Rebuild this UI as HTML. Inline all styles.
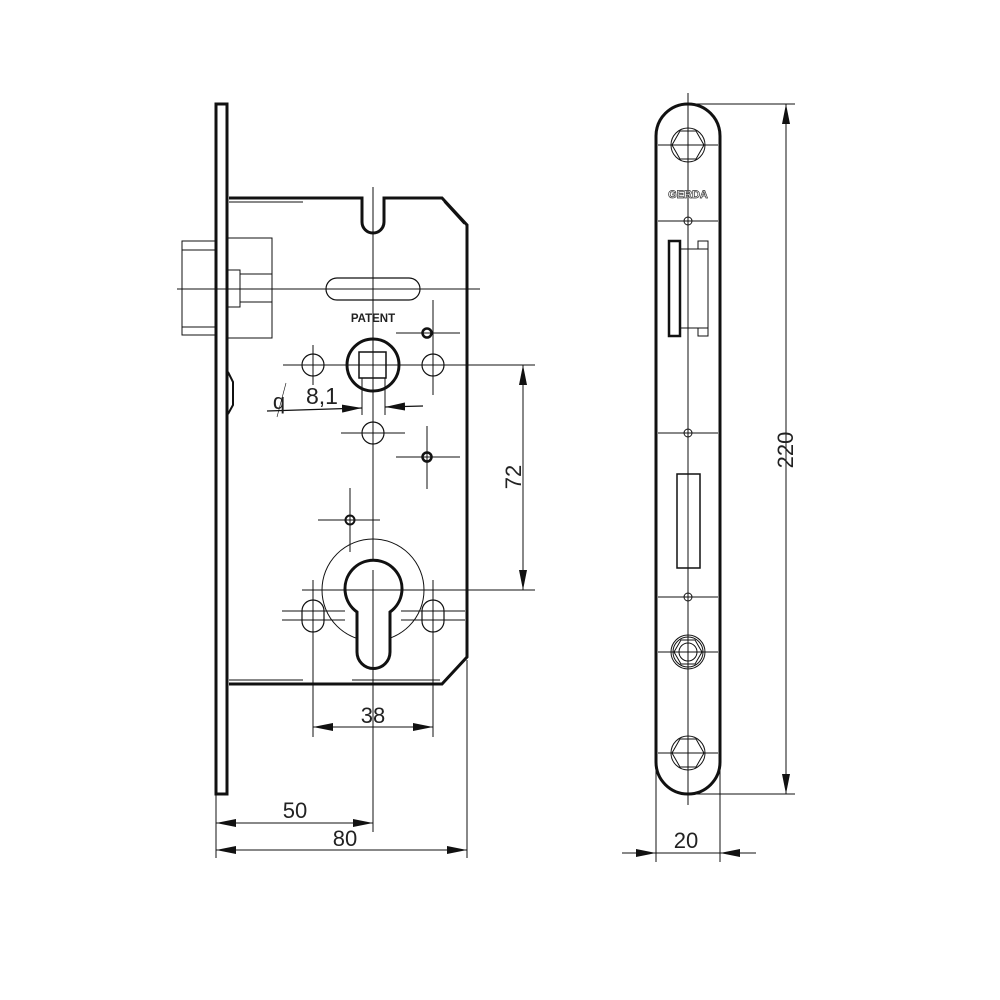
<!DOCTYPE html>
<html><head><meta charset="utf-8"><style>
html,body{margin:0;padding:0;background:#fff;}
svg{display:block;}
text{font-family:"Liberation Sans",Arial,sans-serif;fill:#222;}
</style></head><body>
<svg width="1000" height="1000" viewBox="0 0 1000 1000" xmlns="http://www.w3.org/2000/svg">
<defs>
<marker id="a" viewBox="0 0 20 8" refX="20" refY="4" markerWidth="20" markerHeight="8" markerUnits="userSpaceOnUse" orient="auto"><path d="M0,0 L20,4 L0,8 z" fill="#111"/></marker>
<marker id="b" viewBox="0 0 20 8" refX="0" refY="4" markerWidth="20" markerHeight="8" markerUnits="userSpaceOnUse" orient="auto"><path d="M20,0 L0,4 L20,8 z" fill="#111"/></marker>
</defs>
<g fill="none" stroke="#111">
<g stroke-width="1">
<line x1="373" y1="187" x2="373" y2="832"/>
<line x1="177" y1="289" x2="480" y2="289"/>
<line x1="283" y1="365" x2="535" y2="365"/>
<line x1="302" y1="590" x2="535" y2="590"/>
<line x1="313" y1="345" x2="313" y2="385"/>
<line x1="433" y1="300" x2="433" y2="395"/>
<line x1="396" y1="333" x2="460" y2="333"/>
<line x1="341" y1="433" x2="405" y2="433"/>
<line x1="396" y1="457" x2="460" y2="457"/>
<line x1="427" y1="426" x2="427" y2="489"/>
<line x1="318" y1="520" x2="380" y2="520"/>
<line x1="350" y1="488" x2="350" y2="552"/>
<line x1="313" y1="580" x2="313" y2="737"/>
<line x1="433" y1="580" x2="433" y2="737"/>
<line x1="216" y1="795" x2="216" y2="858"/>
<line x1="467" y1="660" x2="467" y2="858"/>
<line x1="362" y1="378" x2="362" y2="415"/>
<line x1="385" y1="378" x2="385" y2="415"/>
</g>
<rect x="216" y="104" width="11" height="690" stroke-width="3"/>
<path d="M228,372 L233,382 L233,405 L228,414" stroke-width="2"/>
<path d="M229,198 L362,198 L362,222 A11,11 0 0 0 384,222 L384,198 L442,198 L467,225 L467,657 L442,684 L229,684" stroke-width="3"/>
<path d="M229,202 L303,202 M444,202 L464,224 M444,681 L464,660 M229,680 L303,680 M352,680 L440,680" stroke-width="1"/>
<rect x="182" y="241" width="34" height="94" stroke-width="1"/>
<line x1="182" y1="250" x2="216" y2="250" stroke-width="1"/>
<line x1="182" y1="327" x2="216" y2="327" stroke-width="1"/>
<path d="M228,238 L272,238 L272,338 L228,338" stroke-width="1"/>
<rect x="228" y="270" width="12" height="37" stroke-width="1"/>
<path d="M240,274 L272,274 M240,302 L272,302" stroke-width="1"/>
<rect x="326" y="278" width="94" height="22" rx="11" stroke-width="1.2"/>
<circle cx="373" cy="365" r="26" stroke-width="3"/>
<rect x="359" y="352" width="27" height="26" stroke-width="1.5"/>
<circle cx="313" cy="365" r="11" stroke-width="1.2"/>
<circle cx="433" cy="365" r="11" stroke-width="1.2"/>
<circle cx="373" cy="433" r="11" stroke-width="1.2"/>
<circle cx="427" cy="333" r="4.5" stroke-width="2.5"/>
<circle cx="427" cy="457" r="4.5" stroke-width="2.5"/>
<circle cx="350" cy="520" r="4.5" stroke-width="2"/>
<circle cx="373" cy="590" r="51" stroke-width="1"/>
<path d="M357,612 A28.5,28.5 0 1 1 390,612 L390,652 A16.5,16.5 0 0 1 357,652 Z" stroke-width="3" fill="#fff"/>
<rect x="302" y="600" width="22" height="32" rx="11" stroke-width="1.2" fill="#fff"/>
<rect x="422" y="600" width="22" height="32" rx="11" stroke-width="1.2" fill="#fff"/>
<line x1="313" y1="595" x2="313" y2="640" stroke-width="1"/>
<line x1="433" y1="595" x2="433" y2="640" stroke-width="1"/>
<line x1="282" y1="611" x2="345" y2="611" stroke-width="1"/>
<line x1="282" y1="620" x2="345" y2="620" stroke-width="1"/>
<line x1="401" y1="611" x2="465" y2="611" stroke-width="1"/>
<line x1="401" y1="620" x2="465" y2="620" stroke-width="1"/>
<line x1="373" y1="570" x2="373" y2="670" stroke-width="1"/>
<line x1="335" y1="590" x2="412" y2="590" stroke-width="1"/>
<line x1="267" y1="411" x2="362" y2="408" stroke-width="1.2" marker-end="url(#a)"/>
<line x1="385" y1="407" x2="423" y2="406" stroke-width="1.2" marker-start="url(#b)"/>
<line x1="277" y1="417" x2="286" y2="383" stroke-width="0.6"/>
<line x1="313" y1="727" x2="433" y2="727" stroke-width="1" marker-start="url(#b)" marker-end="url(#a)"/>
<line x1="216" y1="823" x2="373" y2="823" stroke-width="1" marker-start="url(#b)" marker-end="url(#a)"/>
<line x1="216" y1="850" x2="467" y2="850" stroke-width="1" marker-start="url(#b)" marker-end="url(#a)"/>
<line x1="523" y1="365" x2="523" y2="590" stroke-width="1" marker-start="url(#b)" marker-end="url(#a)"/>

<path d="M656,136 A32,32 0 0 1 720,136 L720,762 A32,32 0 0 1 656,762 Z" stroke-width="3"/>
<g stroke-width="1">
<line x1="688" y1="93" x2="688" y2="805"/>
<line x1="688" y1="104" x2="795" y2="104"/>
<line x1="688" y1="794" x2="795" y2="794"/>
<line x1="658" y1="145" x2="718" y2="145"/>
<line x1="658" y1="221" x2="718" y2="221"/>
<line x1="658" y1="433" x2="718" y2="433"/>
<line x1="658" y1="597" x2="718" y2="597"/>
<line x1="658" y1="652" x2="718" y2="652"/>
<line x1="658" y1="753" x2="718" y2="753"/>
<line x1="656" y1="760" x2="656" y2="862"/>
<line x1="720" y1="760" x2="720" y2="862"/>
<circle cx="688" cy="145" r="17"/>
<polygon points="680,131 696,131 704,145 696,159 680,159 672,145"/>
<circle cx="688" cy="221" r="4"/>
<circle cx="688" cy="433" r="4"/>
<circle cx="688" cy="597" r="4"/>
<circle cx="688" cy="652" r="17"/>
<circle cx="688" cy="652" r="15"/>
<polygon points="681,640 695,640 702,652 695,664 681,664 674,652"/>
<circle cx="688" cy="652" r="9"/>
<circle cx="688" cy="753" r="17"/>
<polygon points="680,739 696,739 704,753 696,767 680,767 672,753"/>
<path d="M680,249 L708,249 L708,328 L680,328"/>
<rect x="698" y="241" width="10" height="8"/>
<rect x="698" y="328" width="10" height="8"/>
<rect x="677" y="474" width="23" height="94" stroke-width="1.5"/>
</g>
<rect x="669" y="241" width="11" height="95" stroke-width="2.5"/>
<line x1="786" y1="104" x2="786" y2="794" stroke-width="1" marker-start="url(#b)" marker-end="url(#a)"/>
<line x1="622" y1="853" x2="656" y2="853" stroke-width="1" marker-end="url(#a)"/>
<line x1="720" y1="853" x2="756" y2="853" stroke-width="1" marker-start="url(#b)"/>
<line x1="656" y1="853" x2="720" y2="853" stroke-width="1"/>
</g>
<text x="373" y="322" font-size="11.5" font-weight="bold" text-anchor="middle">PATENT</text>
<text x="322" y="404" font-size="23" text-anchor="middle">8,1</text>
<text x="279" y="409" font-size="22" text-anchor="middle">q</text>
<text x="373" y="723" font-size="22" text-anchor="middle">38</text>
<text x="295" y="818" font-size="22" text-anchor="middle">50</text>
<text x="345" y="846" font-size="22" text-anchor="middle">80</text>
<text x="686" y="848" font-size="22" text-anchor="middle">20</text>
<text transform="translate(521,477) rotate(-90)" font-size="22" text-anchor="middle">72</text>
<text transform="translate(793,450) rotate(-90)" font-size="22" text-anchor="middle">220</text>
<text x="688" y="198" font-size="11" font-weight="bold" text-anchor="middle" style="fill:#fff;stroke:#333;stroke-width:0.7">GERDA</text>
</svg>
</body></html>
